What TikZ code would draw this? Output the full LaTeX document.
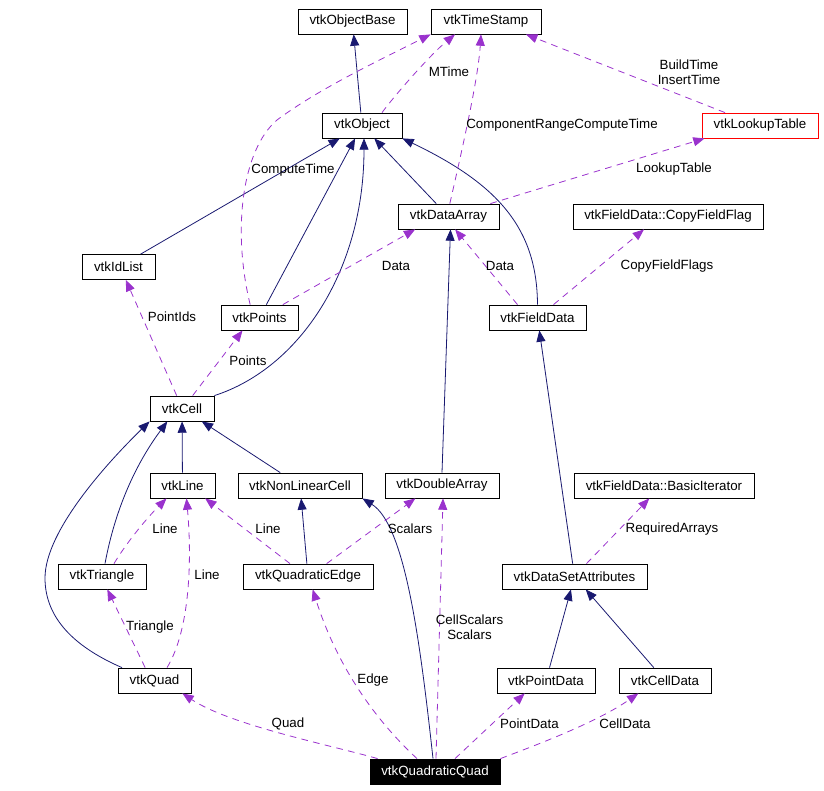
\documentclass[tikz,border=0pt]{standalone}
\usepackage{fontspec}
\setmainfont{Liberation Sans}
\usepackage{xcolor}
\usetikzlibrary{arrows.meta}
\definecolor{inhcol}{HTML}{191970}
\definecolor{usecol}{HTML}{9A32CD}

\begin{document}
\begin{tikzpicture}[x=0.75pt, y=-0.75pt,
  font=\fontsize{10}{11.25}\selectfont, >={Triangle[length=8.5pt,width=6.75pt]},
  cls/.style={draw, minimum height=18.75pt, inner sep=0pt, line width=0.6pt},
  wd/.style={minimum width=#1*0.75pt},
  inh/.style={draw=inhcol, line width=0.6pt, ->},
  usage/.style={draw=usecol, line width=0.6pt, dash pattern=on 5pt off 4pt, ->},
  lbl/.style={inner sep=0pt, align=center}]
\useasboundingbox (0,0) rectangle (824,791);
\node[cls, wd=109] (objbase) at (352.5,21.5) {vtkObjectBase};
\node[cls, wd=110] (tstamp) at (486,21.5) {vtkTimeStamp};
\node[cls, wd=80] (obj) at (362,125.5) {vtkObject};
\node[cls, wd=116, draw=red] (lut) at (760,125.5) {vtkLookupTable};
\node[cls, wd=101] (darr) at (448.5,216.5) {vtkDataArray};
\node[cls, wd=190] (cff) at (668,216.5) {vtkFieldData::CopyFieldFlag};
\node[cls, wd=73] (idlist) at (118.5,267) {vtkIdList};
\node[cls, wd=77] (points) at (259.5,317.5) {vtkPoints};
\node[cls, wd=97] (fdata) at (537.5,317.5) {vtkFieldData};
\node[cls, wd=64] (cell) at (182,408.5) {vtkCell};
\node[cls, wd=65] (line) at (182.5,485.5) {vtkLine};
\node[cls, wd=124] (nlcell) at (300,485.5) {vtkNonLinearCell};
\node[cls, wd=114] (dblarr) at (442,485.5) {vtkDoubleArray};
\node[cls, wd=180] (biter) at (664,485.5) {vtkFieldData::BasicIterator};
\node[cls, wd=88] (tri) at (102,576.5) {vtkTriangle};
\node[cls, wd=130] (qedge) at (308,576.5) {vtkQuadraticEdge};
\node[cls, wd=145] (dsa) at (574.5,576.5) {vtkDataSetAttributes};
\node[cls, wd=73] (quad) at (154.5,680.5) {vtkQuad};
\node[cls, wd=98] (pdata) at (546,680.5) {vtkPointData};
\node[cls, wd=92] (cdata) at (665,680.5) {vtkCellData};
\node[cls, wd=130, fill=black, text=white] (qquad) at (435,771.5) {vtkQuadraticQuad};
\draw[inh] (obj) -- (objbase);
\draw[inh] (idlist) -- (obj);
\draw[inh] (points) -- (obj);
\draw[inh] (cell.north east) .. controls (300,368) and (364,270) .. ([xshift=1.5pt]obj.south);
\draw[inh] (darr) -- (obj);
\draw[inh] (fdata.north) .. controls (537,230) and (500,185) .. (obj.south east);
\draw[inh] (dblarr.north) -- ([xshift=1.5pt]darr.south);
\draw[inh] (line) -- (cell);
\draw[inh] (nlcell) -- (cell);
\draw[inh] ([xshift=2.25pt]tri.north) .. controls (115,510) and (135,465) .. ([xshift=-11pt]cell.south);
\draw[inh] ([xshift=-24.4pt]quad.north) .. controls (70,645) and (45,615) .. (45,578) .. controls (45,530) and (110,460) .. (cell.south west);
\draw[inh] (qedge) -- (nlcell);
\draw[inh] ([xshift=-1.5pt]qquad.north) .. controls (420,640) and (405,525) .. (nlcell.south east);
\draw[inh] (dsa) -- (fdata);
\draw[inh] (pdata) -- (dsa);
\draw[inh] (cdata) -- (dsa);
\draw[usage] ([xshift=-7pt]points.north) .. controls (232,230) and (242,150) .. (277,120) .. controls (320,88) and (380,60) .. (tstamp.south west) node[lbl] at (293,170) {ComputeTime};
\draw[usage] ([xshift=15pt]obj.north) .. controls (395,95) and (430,55) .. ([xshift=-23.25pt]tstamp.south) node[lbl] at (449,72) {MTime};
\draw[usage] ([xshift=1pt]darr.north) .. controls (462,150) and (478,80) .. ([xshift=-3.75pt]tstamp.south) node[lbl] at (562,125) {ComponentRangeComputeTime};
\draw[usage] ([xshift=-26.25pt]lut.north) -- ([xshift=30pt]tstamp.south) node[lbl] at (689,72.5) {BuildTime\\InsertTime};
\draw[usage] ([xshift=-6.75pt]darr.north east) -- ([xshift=2.25pt]lut.south west) node[lbl] at (674,169) {LookupTable};
\draw[usage] ([xshift=17.5pt]points.north) -- ([xshift=-25pt]darr.south) node[lbl] at (396,266) {Data};
\draw[usage] ([xshift=-15pt]fdata.north) -- ([xshift=5pt]darr.south) node[lbl] at (500,266) {Data};
\draw[usage] ([xshift=12pt]fdata.north) -- ([xshift=-18pt]cff.south) node[lbl] at (667,266) {CopyFieldFlags};
\draw[usage] ([xshift=-4pt]cell.north) -- ([xshift=5.5pt]idlist.south) node[lbl] at (172,317) {PointIds};
\draw[usage] ([xshift=8pt]cell.north) -- ([xshift=-12.75pt]points.south) node[lbl] at (248,361) {Points};
\draw[usage] ([xshift=9pt]tri.north) .. controls (125,545) and (145,520) .. ([xshift=-12pt]line.south) node[lbl] at (165,529) {Line};
\draw[usage] ([xshift=9.4pt]quad.north) .. controls (190,630) and (192,560) .. ([xshift=3pt]line.south) node[lbl] at (207,575) {Line};
\draw[usage] ([xshift=-13.5pt]qedge.north) -- ([xshift=17pt]line.south) node[lbl] at (268,529) {Line};
\draw[usage] ([xshift=14pt]qedge.north) -- ([xshift=-20pt]dblarr.south) node[lbl] at (410,529) {Scalars};
\draw[usage] ([xshift=0.75pt]qquad.north) -- ([xshift=0.75pt]dblarr.south) node[lbl] at (469.5,627.5) {CellScalars\\Scalars};
\draw[usage] ([xshift=-7pt]quad.north) -- ([xshift=4pt]tri.south) node[lbl] at (150,627) {Triangle};
\draw[usage] ([xshift=6pt]qquad.north west) .. controls (330,745) and (230,725) .. ([xshift=-6.75pt]quad.south east) node[lbl] at (288,724) {Quad};
\draw[usage] ([xshift=-13.5pt]qquad.north) .. controls (370,715) and (335,660) .. ([xshift=3.5pt]qedge.south) node[lbl] at (373,680) {Edge};
\draw[usage] ([xshift=15pt]qquad.north) -- ([xshift=-16pt]pdata.south) node[lbl] at (529.5,724) {PointData};
\draw[usage] (qquad.north east) .. controls (550,740) and (600,720) .. ([xshift=-20pt]cdata.south) node[lbl] at (625,724) {CellData};
\draw[usage] ([xshift=9pt]dsa.north) -- ([xshift=-11pt]biter.south) node[lbl] at (672,529) {RequiredArrays};
\end{tikzpicture}
\end{document}
